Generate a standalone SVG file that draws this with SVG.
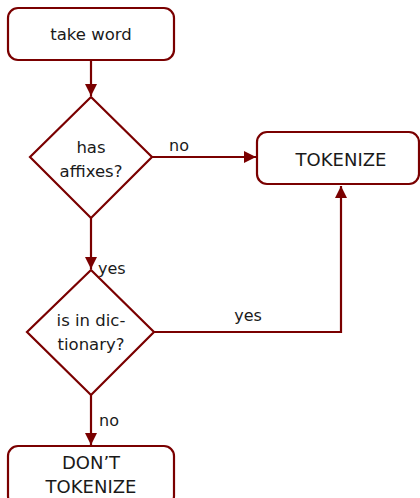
<svg xmlns="http://www.w3.org/2000/svg" width="420" height="498" viewBox="0 0 420 498">
<style>
.box{fill:#fff;stroke:#7a0000;stroke-width:2.2}
.t{font-family:"DejaVu Sans","Liberation Sans",sans-serif;font-size:16.5px;fill:#1a1a1a;text-anchor:middle}
.u{font-size:18px}
.l{font-family:"DejaVu Sans","Liberation Sans",sans-serif;font-size:16px;fill:#1a1a1a}
.c{fill:none;stroke:#7a0000;stroke-width:2.2}
</style>
<defs>
<marker id="a" viewBox="0 0 12 12" refX="12" refY="6" markerWidth="12" markerHeight="12" markerUnits="userSpaceOnUse" orient="auto">
<path d="M0,0 L12,6 L0,12 Z" fill="#7a0000"/>
</marker>
</defs>
<rect width="420" height="498" fill="#fff"/>
<g id="connectors">
<path class="c" d="M91,60 V96" marker-end="url(#a)"/>
<path class="c" d="M152,157 H256" marker-end="url(#a)"/>
<path class="c" d="M91,218 V269" marker-end="url(#a)"/>
<path class="c" d="M154,332 H341 V186" marker-end="url(#a)"/>
<path class="c" d="M91,395 V445" marker-end="url(#a)"/>
<text class="l" x="179" y="151" text-anchor="middle">no</text>
<text class="l" x="98" y="274">yes</text>
<text class="l" x="248" y="321" text-anchor="middle">yes</text>
<text class="l" x="99" y="426">no</text>
</g>
<g id="take-word">
<rect class="box" x="8" y="8" width="166" height="52" rx="10"/>
<text class="t" x="91" y="40">take word</text>
</g>
<g id="has-affixes">
<path class="box" d="M91,97 L152,157 L91,218 L30,157 Z"/>
<text class="t" x="91" y="153">has</text>
<text class="t" x="91" y="177">affixes?</text>
</g>
<g id="tokenize">
<rect class="box" x="257" y="132" width="162" height="52" rx="10"/>
<text class="t u" x="341" y="166">TOKENIZE</text>
</g>
<g id="in-dictionary">
<path class="box" d="M91,270 L154,332 L91,395 L27,332 Z"/>
<text class="t" x="91" y="326">is in dic-</text>
<text class="t" x="91" y="350">tionary?</text>
</g>
<g id="dont-tokenize">
<rect class="box" x="8" y="446" width="166" height="60" rx="10"/>
<text class="t u" x="91" y="469">DON’T</text>
<text class="t u" x="91" y="493">TOKENIZE</text>
</g>
</svg>
